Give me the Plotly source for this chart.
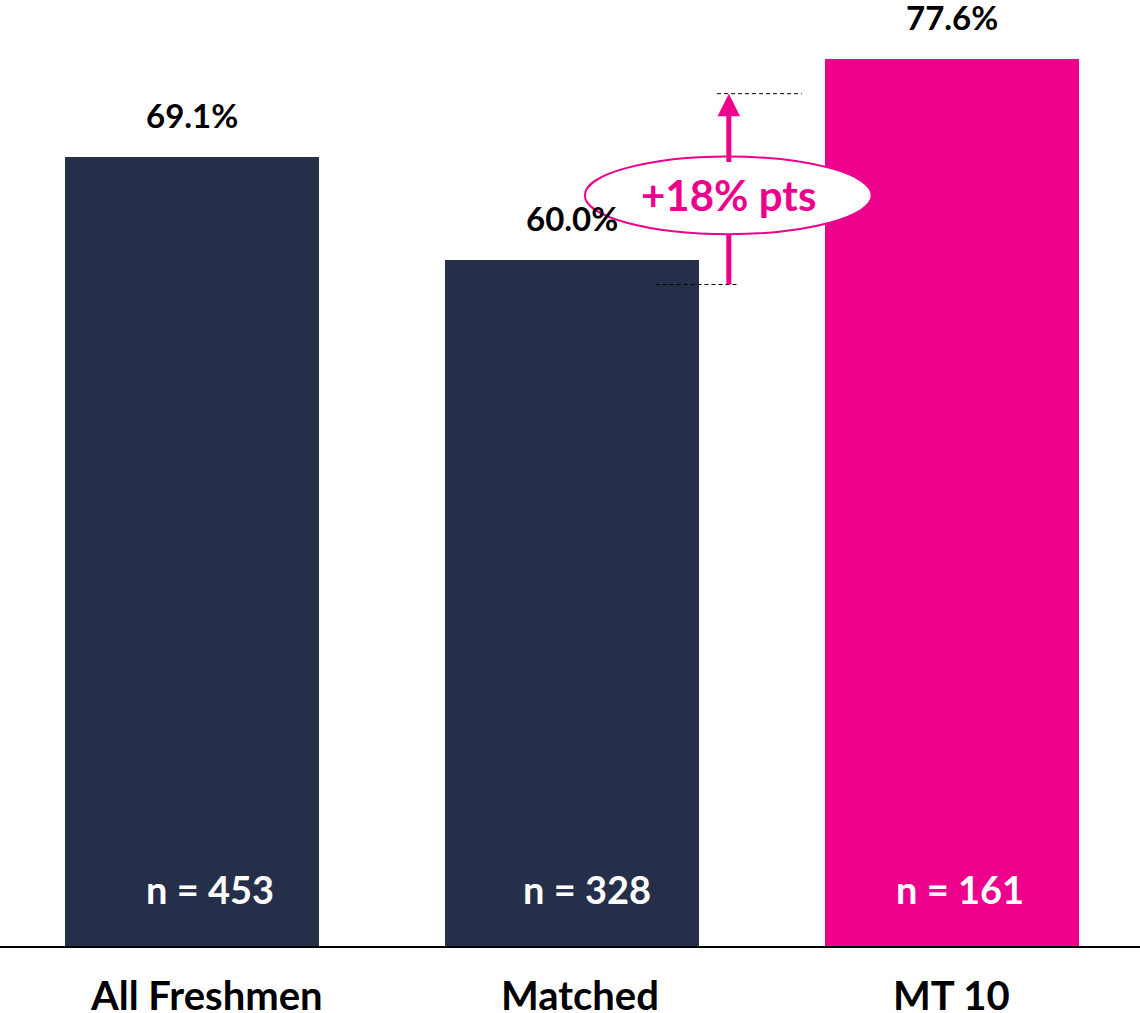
import plotly.graph_objects as go

categories = ["All Freshmen", "Matched", "MT 10"]
values = [69.1, 60.0, 77.6]
value_labels = ["69.1%", "60.0%", "77.6%"]
n_labels = ["n = 453", "n = 328", "n = 161"]
colors = ["#252F4A", "#252F4A", "#EC008C"]
diff_label = "+18% pts"

PINK = "#EC008C"
FONT = "Lato"

xi = list(range(len(categories)))

fig = go.Figure()
fig.add_trace(go.Bar(
    x=xi, y=values, width=0.668, marker=dict(color=colors, line=dict(width=0)),
    hoverinfo="skip", showlegend=False,
))

# value labels above bars
for i, v in enumerate(values):
    fig.add_annotation(x=i, y=v, text=f"<b>{value_labels[i]}</b>", showarrow=False,
                       yanchor="bottom", yshift=20, font=dict(family=FONT, size=33, color="black"))
# n labels inside bars
n_shift = [18, 15, 8]
for i, t in enumerate(n_labels):
    fig.add_annotation(x=i, y=0, text=f"<b>{t}</b>", showarrow=False, yanchor="middle",
                       yshift=57, xshift=n_shift[i], font=dict(family=FONT, size=38, color="white"))
# category labels below axis
cat_shift = [15, 8, 0]
for i, c in enumerate(categories):
    fig.add_annotation(x=i, y=0, text=f"<b>{c}</b>", showarrow=False, yanchor="middle",
                       yshift=-49, xshift=cat_shift[i], font=dict(family=FONT, size=40, color="black"))

# difference indicator
x_arrow = 1.413
y_low, y_high = 57.9, 74.6
fig.add_shape(type="line", x0=1.22, x1=1.44, y0=y_low, y1=y_low,
              line=dict(color="black", width=1, dash="4px,3px"))
fig.add_shape(type="line", x0=1.382, x1=1.605, y0=y_high, y1=y_high,
              line=dict(color="black", width=1, dash="4px,3px"))
fig.add_shape(type="line", x0=x_arrow, x1=x_arrow, y0=y_low, y1=63.0,
              line=dict(color=PINK, width=5))
fig.add_annotation(x=x_arrow, y=y_high, ax=x_arrow, ay=68.5, axref="x", ayref="y",
                   xref="x", yref="y", showarrow=True, arrowhead=2, arrowsize=0.9,
                   arrowwidth=5, arrowcolor=PINK, text="")
fig.add_shape(type="circle", x0=1.034, x1=1.789, y0=62.3, y1=69.1,
              line=dict(color=PINK, width=2), fillcolor="white", layer="above")
fig.add_annotation(x=(1.034 + 1.789) / 2, y=65.7, text=f"<b>{diff_label}</b>", showarrow=False,
                   font=dict(family=FONT, size=42, color=PINK))

fig.update_layout(
    width=1140, height=1013,
    margin=dict(l=0, r=0, t=0, b=67, autoexpand=False),
    paper_bgcolor="white", plot_bgcolor="white",
    xaxis=dict(range=[-0.505, 2.495], tickvals=xi, showticklabels=False,
               showline=True, linecolor="black", linewidth=2, showgrid=False, zeroline=False,
               automargin=False, ticks=""),
    yaxis=dict(range=[0, 82.8], visible=False, showgrid=False, zeroline=False, automargin=False),
    bargap=0,
)

fig.write_html("out.html", config={"displayModeBar": False},
               post_script="document.body.style.margin='0';document.body.style.overflow='hidden';")
